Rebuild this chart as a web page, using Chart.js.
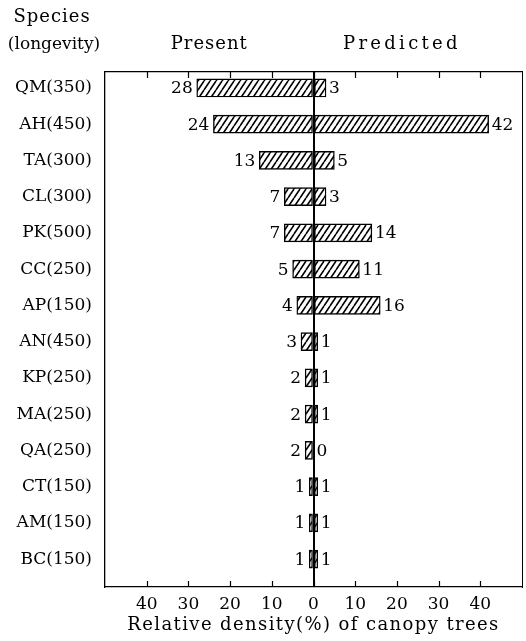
<!DOCTYPE html>
<html>
<head>
<meta charset="utf-8">
<script src="https://cdn.jsdelivr.net/npm/chart.js@4.4.1/dist/chart.umd.min.js"></script>
<style>
  html, body { margin: 0; padding: 0; background: #fff; }
  canvas { display: block; }
</style>
</head>
<body>
<canvas id="c" width="526" height="641"></canvas>
<script>
var species = ["QM", "AH", "TA", "CL", "PK", "CC", "AP", "AN", "KP", "MA", "QA", "CT", "AM", "BC"];
var longevity = [350, 450, 300, 300, 500, 250, 150, 450, 250, 250, 250, 150, 150, 150];
var present = [28, 24, 13, 7, 7, 5, 4, 3, 2, 2, 2, 1, 1, 1];
var predicted = [3, 42, 5, 3, 14, 11, 16, 1, 1, 1, 0, 1, 1, 1];
var xTicks = [-40, -30, -20, -10, 0, 10, 20, 30, 40];

var FONT = "'DejaVu Serif', 'Liberation Serif', serif";

// diagonal hatch fill
function hatch() {
  var w = 6, h = 9;
  var p = document.createElement("canvas");
  p.width = w; p.height = h;
  var g = p.getContext("2d");
  g.fillStyle = "#fff";
  g.fillRect(0, 0, w, h);
  g.strokeStyle = "#000";
  g.lineWidth = 1.6;
  g.beginPath();
  g.moveTo(0, h); g.lineTo(w, 0);
  g.moveTo(-w, h); g.lineTo(0, 0);
  g.moveTo(w, h); g.lineTo(2 * w, 0);
  g.stroke();
  return g.createPattern(p, "repeat");
}
var fill = hatch();

var labels = species.map(function (s, i) { return s + "(" + longevity[i] + ")"; });

var extras = {
  id: "extras",
  afterDraw: function (chart) {
    var ctx = chart.ctx, a = chart.chartArea, x = chart.scales.x;
    ctx.save();
    ctx.strokeStyle = "#000";
    ctx.lineWidth = 1.2;
    // inward tick marks top and bottom
    xTicks.forEach(function (v) {
      var px = Math.round(x.getPixelForValue(v)) + 0.5;
      ctx.beginPath();
      ctx.moveTo(px, a.bottom); ctx.lineTo(px, a.bottom - 6);
      ctx.moveTo(px, a.top); ctx.lineTo(px, a.top + 6);
      ctx.stroke();
    });
    // value labels
    ctx.fillStyle = "#000";
    ctx.font = "17px " + FONT;
    ctx.textBaseline = "middle";
    chart.getDatasetMeta(0).data.forEach(function (el, i) {
      ctx.textAlign = "right";
      ctx.fillText(String(present[i]), x.getPixelForValue(-present[i]) - 4, el.y + 1);
    });
    chart.getDatasetMeta(1).data.forEach(function (el, i) {
      ctx.textAlign = "left";
      ctx.fillText(String(predicted[i]), x.getPixelForValue(predicted[i]) + 3, el.y + 1);
    });
    // axis title
    ctx.textAlign = "center";
    ctx.font = "18px " + FONT;
    ctx.letterSpacing = "1.4px";
    ctx.fillText("Relative density(%) of canopy trees", x.getPixelForValue(0), 625);
    // headers
    ctx.textBaseline = "alphabetic";
    ctx.letterSpacing = "1px";
    ctx.fillText("Species", 52, 22);
    ctx.letterSpacing = "0px";
    ctx.font = "17px " + FONT;
    ctx.fillText("(longevity)", 54, 49);
    ctx.font = "18px " + FONT;
    ctx.letterSpacing = "1px";
    ctx.fillText("Present", x.getPixelForValue(-25), 49);
    ctx.letterSpacing = "3.3px";
    ctx.fillText("Predicted", x.getPixelForValue(21.2), 49);
    ctx.letterSpacing = "0px";
    ctx.restore();
  }
};

function barSet(label, values) {
  return {
    label: label,
    data: values.map(function (v, i) { return { x: v, y: i }; }),
    backgroundColor: fill,
    borderColor: "#000",
    borderWidth: 1.4,
    borderSkipped: false,
    barThickness: 18,
    grouped: false
  };
}

new Chart(document.getElementById("c"), {
  type: "bar",
  data: {
    datasets: [
      barSet("Present", present.map(function (v) { return -v; })),
      barSet("Predicted", predicted)
    ]
  },
  plugins: [extras],
  options: {
    indexAxis: "y",
    responsive: false,
    animation: false,
    devicePixelRatio: 1,
    layout: { padding: { top: 72, right: 4, left: 0, bottom: 0 } },
    plugins: { legend: { display: false }, tooltip: { enabled: false } },
    scales: {
      x: {
        type: "linear",
        min: -50, max: 50,
        afterFit: function (s) { s.height = 54; },
        afterBuildTicks: function (s) { s.ticks = xTicks.map(function (v) { return { value: v }; }); },
        ticks: {
          color: "#000",
          font: { family: FONT, size: 17 },
          padding: 7,
          maxRotation: 0,
          callback: function (v) { return Math.abs(v); }
        },
        grid: {
          drawTicks: false,
          color: function (c) { return c.tick && c.tick.value === 0 ? "#000" : "rgba(0,0,0,0)"; },
          lineWidth: function (c) { return c.tick && c.tick.value === 0 ? 2 : 0; }
        },
        border: { display: true, color: "#000", width: 1.3 }
      },
      xTop: {
        type: "linear",
        position: "top",
        min: -50, max: 50,
        afterFit: function (s) { s.height = 0; },
        ticks: { display: false },
        grid: { display: false, drawTicks: false },
        border: { display: true, color: "#000", width: 1.3 }
      },
      y: {
        type: "linear",
        reverse: true,
        offset: false,
        min: -0.44, max: 13.77,
        afterFit: function (s) { s.width = 105; },
        afterBuildTicks: function (s) { s.ticks = labels.map(function (l, i) { return { value: i }; }); },
        ticks: {
          color: "#000",
          font: { family: FONT, size: 17 },
          padding: 13,
          callback: function (v) { return labels[v]; }
        },
        grid: { display: false, drawTicks: false, offset: false },
        border: { display: true, color: "#000", width: 1.3 }
      },
      yRight: {
        type: "linear",
        position: "right",
        afterFit: function (s) { s.width = 0; },
        ticks: { display: false },
        grid: { display: false, drawTicks: false },
        border: { display: true, color: "#000", width: 1 }
      }
    }
  }
});
</script>
</body>
</html>
